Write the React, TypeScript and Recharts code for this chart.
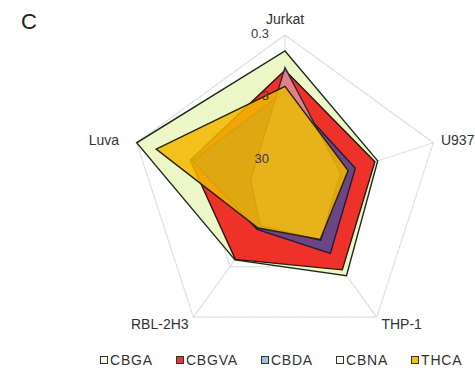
import React from "react";
import {
  RadarChart,
  Radar,
  PolarGrid,
  PolarAngleAxis,
  PolarRadiusAxis,
  Legend,
} from "recharts";

const cellLines = ["Jurkat", "U937", "THP-1", "RBL-2H3", "Luva"];

// IC50 (µM) per cell line, same order as cellLines
const cbga = [0.54, 2.6, 2.0, 4.1, 0.3];
const cbgva = [1.1, 2.9, 2.6, 4.2, 2.4];
const cbda = [2.4, 6.2, 5.5, 16.5, 2.6];
const cbna = [1.0, 11, 10, 20, 25];
const thca = [2.0, 8.2, 10.4, 17.5, 0.64];

const radiusTicks = [30, 3, 0.3];

// log axis: 0.3 µM on the outer ring, 2.5 decades down to the centre,
// expressed as percent of the radius so the axis domain stays 0..100
const outerValue = 0.3;
const decades = 2.5;
const centerValue = outerValue * Math.pow(10, decades);

const series = [
  { name: "CBGA", values: cbga, fill: "#edf6c6", fillOpacity: 1, stroke: "#1d2b1d", swatch: "#f3f7e2" },
  { name: "CBGVA", values: cbgva, fill: "#ee3129", fillOpacity: 1, stroke: "#2a1414", swatch: "#e8323a" },
  { name: "CBDA", values: cbda, fill: "#3a4fa6", fillOpacity: 0.72, stroke: "#1c1c40", swatch: "#9fc0de" },
  { name: "CBNA", values: cbna, fill: "#d8d0ea", fillOpacity: 0.5, stroke: "#2a2a3a", swatch: "#ffffff" },
  { name: "THCA", values: thca, fill: "#f2b800", fillOpacity: 0.86, stroke: "#2a2200", swatch: "#f2c400" },
];

const toRadius = (v: number) => (Math.log10(centerValue / v) / decades) * 100;
const fromRadius = (r: number) =>
  Number((centerValue / Math.pow(10, (r / 100) * decades)).toPrecision(2)).toString();

const chartData = cellLines.map((cell, i) => {
  const row: Record<string, any> = { cell };
  series.forEach((s) => {
    row[s.name] = toRadius(s.values[i]);
  });
  return row;
});

const CX = 285;
const CY = 191;

const AngleTick = ({ x, y, textAnchor, payload }: any) => {
  const nudge = payload.value === "Luva" ? -10 : 0;
  const dy = textAnchor === "middle" ? (y < CY ? -3 : 12) : 5;
  return (
    <text
      x={x + nudge}
      y={y}
      dy={dy}
      textAnchor={textAnchor}
      fontSize={14}
      fill="#333"
      fontFamily="Liberation Sans, Arial, sans-serif"
    >
      {payload.value}
    </text>
  );
};

const RadiusTick = ({ x, y, payload }: any) => (
  <text
    x={x - 16}
    y={y}
    dy={3}
    textAnchor="end"
    fontSize={13}
    fill="#3a3a3a"
    fontFamily="Liberation Sans, Arial, sans-serif"
  >
    {fromRadius(payload.value)}
  </text>
);

const LegendContent = () => (
  <div
    style={{
      display: "flex",
      gap: 23,
      paddingLeft: 100,
      fontFamily: "Liberation Sans, Arial, sans-serif",
      fontSize: 14,
      letterSpacing: 0.8,
      color: "#333",
    }}
  >
    {series.map((s) => (
      <div key={s.name} style={{ display: "flex", alignItems: "center" }}>
        <span
          style={{
            display: "inline-block",
            width: 6,
            height: 6,
            background: s.swatch,
            border: "1px solid #333",
            marginRight: 2,
          }}
        />
        {s.name}
      </div>
    ))}
  </div>
);

export default function App() {
  return (
    <div
      style={{
        position: "absolute",
        left: 0,
        top: 0,
        width: 475,
        height: 385,
        background: "#fff",
        overflow: "hidden",
      }}
    >
      <div
        style={{
          position: "absolute",
          left: 21,
          top: 9,
          fontSize: 22,
          color: "#222",
          fontFamily: "Liberation Sans, Arial, sans-serif",
        }}
      >
        C
      </div>
      <RadarChart
        width={475}
        height={385}
        data={chartData}
        cx={CX}
        cy={CY}
        outerRadius={156}
        margin={{ top: 0, right: 0, bottom: 0, left: 0 }}
      >
        <PolarGrid gridType="polygon" stroke="#dcdcdc" strokeWidth={1.2} />
        <PolarAngleAxis dataKey="cell" tick={<AngleTick />} tickLine={false} />
        {series.map((s) => (
          <Radar
            key={s.name}
            name={s.name}
            dataKey={s.name}
            fill={s.fill}
            fillOpacity={s.fillOpacity}
            stroke={s.stroke}
            strokeWidth={1.4}
            isAnimationActive={false}
          />
        ))}
        {/* faint grid showing through the filled areas */}
        <PolarGrid
          gridType="polygon"
          stroke="rgba(255,255,255,0.4)"
          strokeDasharray="3 3"
        />
        <PolarRadiusAxis
          type="number"
          angle={90}
          domain={[0, 100]}
          allowDataOverflow
          ticks={radiusTicks.map(toRadius)}
          tick={<RadiusTick />}
          axisLine={false}
          tickLine={false}
        />
        <Legend
          verticalAlign="bottom"
          content={<LegendContent />}
          wrapperStyle={{ bottom: 17 }}
        />
      </RadarChart>
    </div>
  );
}
